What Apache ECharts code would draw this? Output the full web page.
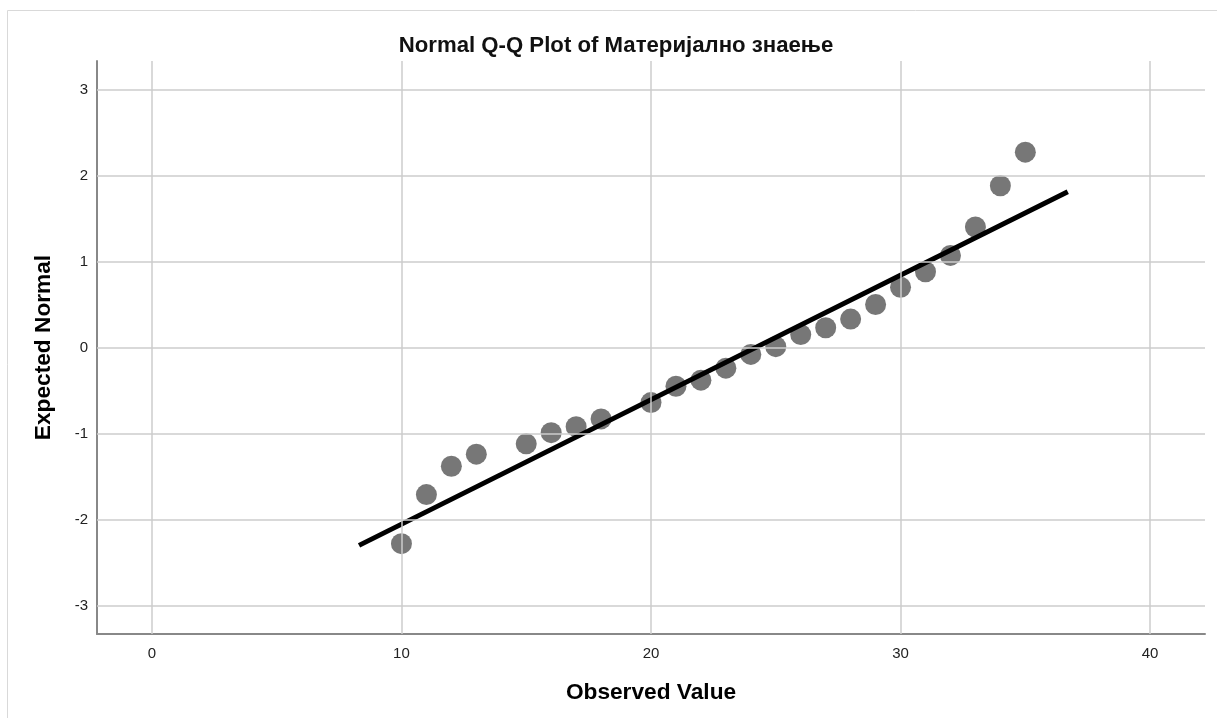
<!DOCTYPE html>
<html>
<head>
<meta charset="utf-8">
<script src="https://cdn.jsdelivr.net/npm/echarts@6/dist/echarts.min.js"></script>
<style>
  html, body { margin: 0; padding: 0; background: #fff; }
  #chart { width: 1217px; height: 718px; }
</style>
</head>
<body>
<div id="chart"></div>
<script>
// observed values and their expected normal scores
const observed = [10, 11, 12, 13, 15, 16, 17, 18, 20, 21, 22, 23, 24, 25, 26, 27, 28, 29, 30, 31, 32, 33, 34, 35];
const expected = [-2.28, -1.71, -1.38, -1.24, -1.12, -0.99, -0.92, -0.83, -0.64, -0.45, -0.38, -0.24, -0.08, 0.01,
  0.15, 0.23, 0.33, 0.50, 0.70, 0.88, 1.07, 1.40, 1.88, 2.27];

// reference line end points
const lineX = [8.3, 36.7];
const lineY = [-2.30, 1.81];

const xTicks = [0, 10, 20, 30, 40];
const yTicks = [-3, -2, -1, 0, 1, 2, 3];

const font = '"Liberation Sans", Arial, sans-serif';

const chart = echarts.init(document.getElementById('chart'));

chart.setOption({
  animation: false,
  title: {
    text: 'Normal Q-Q Plot of Материјално знаење',
    left: 611,
    textAlign: 'center',
    top: 30,
    textStyle: { fontFamily: font, fontSize: 22.2, fontWeight: 'bold', color: '#111' }
  },
  graphic: [{
    type: 'rect',
    shape: { x: 7.5, y: 10.5, width: 1230, height: 730 },
    style: { fill: 'none', stroke: '#d9d9d9', lineWidth: 1 },
    silent: true
  }],
  grid: { left: 97, top: 61, right: 12, bottom: 84 },
  xAxis: {
    type: 'value',
    min: -2.2,
    max: 42.2,
    name: 'Observed Value',
    nameLocation: 'middle',
    nameGap: 47,
    nameTextStyle: { fontFamily: font, fontSize: 22.7, fontWeight: 'bold', color: '#000' },
    axisLine: { show: true, onZero: false, lineStyle: { color: '#888', width: 2 } },
    axisTick: { show: false },
    axisLabel: {
      fontFamily: font, fontSize: 15, color: '#222', margin: 12,
      customValues: xTicks,
      formatter: v => String(v)
    },
    splitLine: { show: false }
  },
  yAxis: {
    type: 'value',
    min: -3.33,
    max: 3.33,
    name: 'Expected Normal',
    nameLocation: 'middle',
    nameGap: 42,
    nameTextStyle: { fontFamily: font, fontSize: 22.7, fontWeight: 'bold', color: '#000' },
    axisLine: { show: true, onZero: false, lineStyle: { color: '#888', width: 2 } },
    axisTick: { show: false },
    axisLabel: {
      fontFamily: font, fontSize: 15, color: '#222', margin: 9,
      customValues: yTicks,
      formatter: v => String(v)
    },
    splitLine: { show: false }
  },
  series: [
    {
      // grid lines at the tick values
      type: 'line',
      silent: true,
      data: [],
      markLine: {
        symbol: 'none',
        silent: true,
        label: { show: false },
        lineStyle: { color: '#cccccc', type: 'solid', width: 1.5 },
        data: xTicks.map(v => ({ xAxis: v })).concat(yTicks.map(v => ({ yAxis: v })))
      }
    },
    {
      type: 'scatter',
      data: observed.map((x, i) => [x, expected[i]]),
      symbolSize: 21,
      itemStyle: { color: '#777777', opacity: 1 },
      z: 3
    },
    {
      type: 'line',
      data: lineX.map((x, i) => [x, lineY[i]]),
      showSymbol: false,
      lineStyle: { color: '#000', width: 5 },
      z: 4
    }
  ]
});
</script>
</body>
</html>
